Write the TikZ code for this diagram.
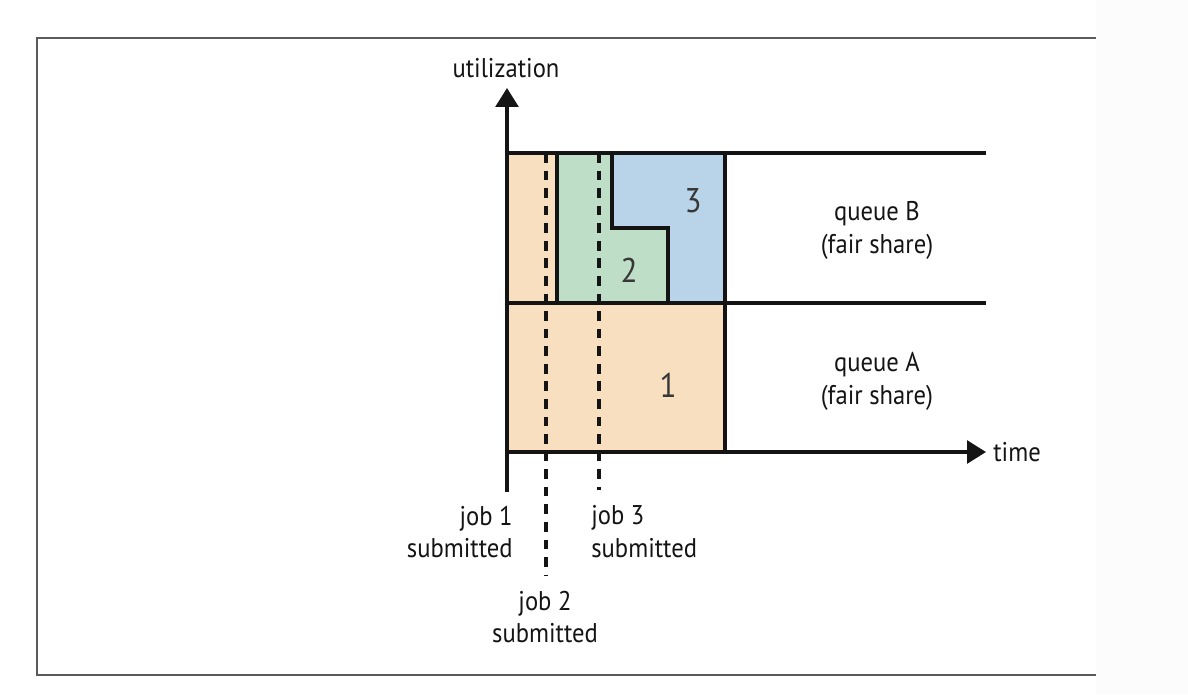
\documentclass[tikz,border=0pt]{standalone}
\usepackage{fontspec}
\setmainfont{PT Sans}[FakeStretch=0.91]
\usetikzlibrary{arrows.meta}
\definecolor{jobA}{RGB}{248,223,192}
\definecolor{jobB}{RGB}{190,222,200}
\definecolor{jobC}{RGB}{185,211,232}
\definecolor{ink}{RGB}{20,20,20}
\definecolor{framegray}{RGB}{90,90,90}
\tikzset{
  lbl/.style={font=\fontsize{15.4}{18.7}\selectfont, text=ink, inner sep=0pt},
  numlbl/.style={font=\fontsize{19.5}{22}\selectfont, text=ink!85, inner sep=0pt},
  solidline/.style={draw=ink, line width=1.8pt},
  dashline/.style={draw=ink, line width=1.8pt, dash pattern=on 5.5pt off 4.5pt},
  axisarrow/.style={solidline, -{Triangle[length=10.8pt,width=13pt]}},
  framestyle/.style={draw=framegray, line width=1.1pt}
}
\begin{document}
\begin{tikzpicture}[x=0.02cm,y=-0.02cm]
\useasboundingbox (0,0) rectangle (1188,694);
\fill[white] (0,0) rectangle (1188,694);
\fill[black!1] (1096,0) rectangle (1188,694);
% frame
\draw[framestyle] (1096,38) -- (37,38) -- (37,675) -- (1096,675);
% coordinates
\coordinate (O) at (507,452);
\coordinate (ytop) at (507,88);
\coordinate (ybot) at (507,492);
\coordinate (xend) at (986,452);
\coordinate (tl) at (507,153);
\coordinate (tr) at (986,153);
\coordinate (ml) at (507,303);
\coordinate (mr) at (986,303);
% fills
\fill[jobA] (507,153) rectangle (557,303);
\fill[jobB] (557,153) -- (612,153) -- (612,228) -- (668,228) -- (668,303) -- (557,303) -- cycle;
\fill[jobC] (612,153) -- (725,153) -- (725,303) -- (668,303) -- (668,228) -- (612,228) -- cycle;
\fill[jobA] (507,303) rectangle (725,452);
% dashed submission lines
\coordinate (d1t) at (546,153);
\coordinate (d1b) at (546,575);
\coordinate (d2t) at (599,153);
\coordinate (d2b) at (599,490);
\draw[dashline] (d1t) -- (d1b);
\draw[dashline] (d2t) -- (d2b);
% solid structure
\draw[solidline] (tl) -- (tr);
\draw[solidline] (ml) -- (mr);
\draw[solidline] (557,153) -- (557,303);
\draw[solidline] (612,153) -- (612,228) -- (668,228) -- (668,303);
\draw[solidline] (725,153) -- (725,452);
\draw[axisarrow] (O) -- (xend);
\draw[axisarrow] (ybot) -- (ytop);
% labels
\node[lbl] (util) at (506,68) {utilization};
\node[lbl, anchor=west] (time) at (993,452) {time};
\node[numlbl] (n3) at (693,201) {3};
\node[numlbl] (n2) at (629,270) {2};
\node[numlbl] (n1) at (668,385) {1};
\node[lbl, align=center] (qB) at (877,230) {queue B\\(fair share)};
\node[lbl, align=center] (qA) at (877,381) {queue A\\(fair share)};
\node[lbl, align=right, anchor=east] (j1) at (513,532) {job 1\\submitted};
\node[lbl, align=left, anchor=west] (j3) at (591,532) {job 3\\submitted};
\node[lbl, align=center] (j2) at (545,617) {job 2\\submitted};
\end{tikzpicture}
\end{document}
